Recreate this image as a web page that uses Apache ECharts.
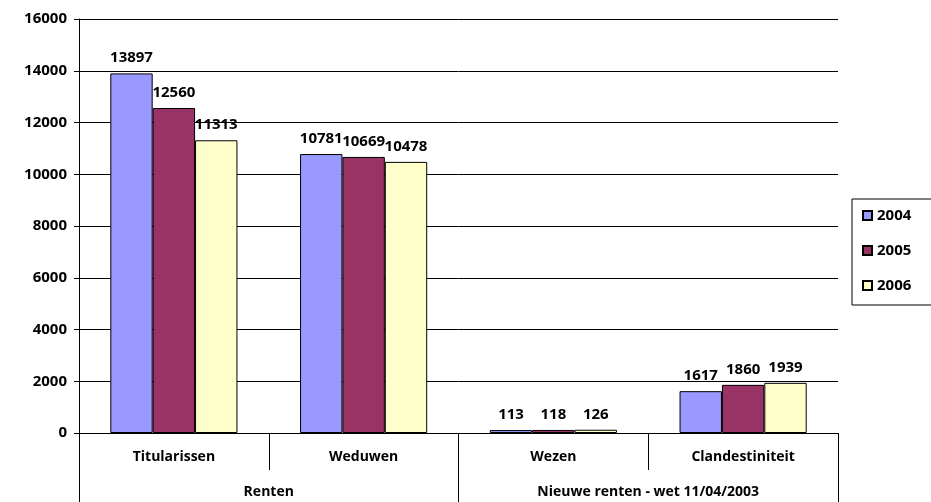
<!DOCTYPE html>
<html><head><meta charset="utf-8">
<script src="https://cdn.jsdelivr.net/npm/echarts@6/dist/echarts.min.js"></script>
<style>html,body{margin:0;padding:0;background:#fff}#c{width:931px;height:502px}</style>
</head><body><div id="c"></div>
<script>
const categories = ['Titularissen', 'Weduwen', 'Wezen', 'Clandestiniteit'];
const groups = ['Renten', 'Nieuwe renten - wet 11/04/2003'];
const years = ['2004', '2005', '2006'];
const v2004 = [13897, 10781, 113, 1617];
const v2005 = [12560, 10669, 118, 1860];
const v2006 = [11313, 10478, 126, 1939];
const colors = ['#9999FF', '#993366', '#FFFFCC'];
const FONT = 'Open Sans';

const chart = echarts.init(document.getElementById('c'));
const mk = (name, data, color) => ({
  name, type: 'bar', data, xAxisIndex: 0,
  barCategoryGap: '33%', barGap: '0%',
  itemStyle: { color, borderColor: '#000', borderWidth: 1 },
  label: { show: true, position: 'top', distance: 8, color: '#000', fontFamily: FONT, fontWeight: 'bold', fontSize: 15 }
});
chart.setOption({
  animation: false,
  textStyle: { fontFamily: FONT },
  grid: { left: 79, right: 93, top: 19, bottom: 69, containLabel: false },
  legend: {
    orient: 'vertical', left: 852, top: 199,
    padding: [9, 40, 12, 10], itemGap: 20,
    borderColor: '#000', borderWidth: 1,
    icon: 'rect', itemWidth: 9, itemHeight: 9,
    textStyle: { fontFamily: FONT, fontWeight: 'bold', fontSize: 15, color: '#000' },
    data: years
  },
  xAxis: [
    {
      type: 'category', data: categories, position: 'bottom',
      axisLine: { lineStyle: { color: '#000' } },
      axisTick: { show: true, length: 37, lineStyle: { color: '#000' } },
      axisLabel: { margin: 17, color: '#000', fontFamily: FONT, fontWeight: 'bold', fontSize: 14 }
    },
    {
      type: 'category', data: groups, position: 'bottom',
      axisLine: { lineStyle: { color: '#000' } },
      axisTick: { show: true, length: 69, lineStyle: { color: '#000' } },
      axisLabel: { margin: 52, color: '#000', fontFamily: FONT, fontWeight: 'bold', fontSize: 14 }
    }
  ],
  yAxis: {
    type: 'value', min: 0, max: 16000, interval: 2000,
    axisLine: { show: true, lineStyle: { color: '#000' } },
    axisTick: { show: true, length: 5, inside: false, lineStyle: { color: '#000' } },
    axisLabel: { margin: 12, color: '#000', fontFamily: FONT, fontWeight: 'bold', fontSize: 15, formatter: v => String(v) },
    splitLine: { show: true, lineStyle: { color: '#000' } }
  },
  series: [mk(years[0], v2004, colors[0]), mk(years[1], v2005, colors[1]), mk(years[2], v2006, colors[2])]
});
</script></body></html>
